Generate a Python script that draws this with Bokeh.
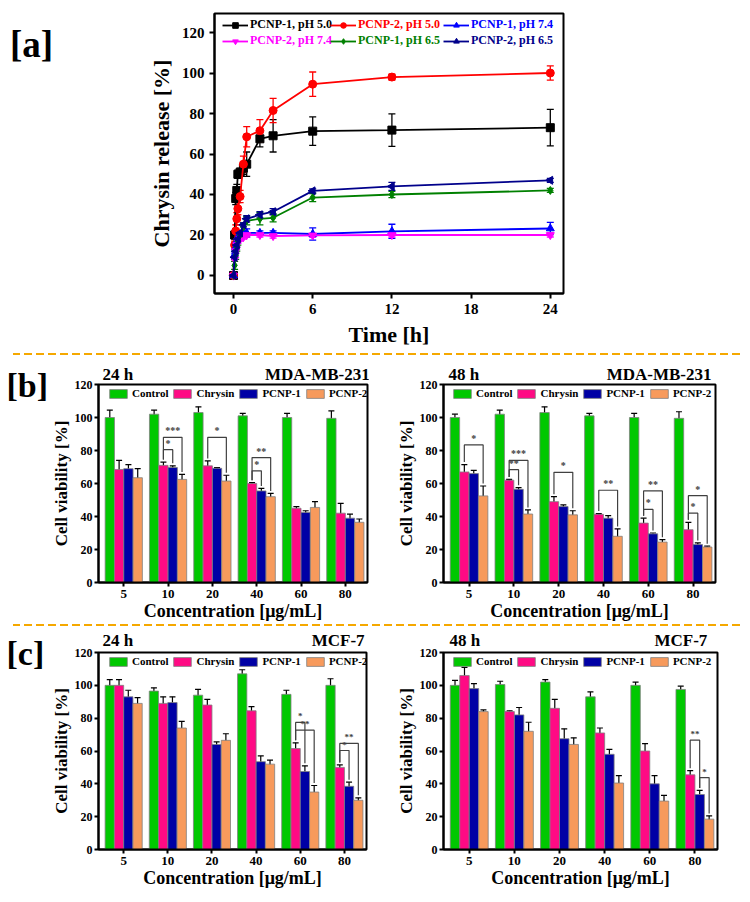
import numpy as np
from bokeh.plotting import figure
from bokeh.models import (ColumnDataSource, Whisker, TeeHead, Legend, LegendItem,
                          Label, FixedTicker, Range1d, Div)
from bokeh.layouts import column, row
from bokeh.embed import file_html
from bokeh.resources import INLINE
from bokeh.core.properties import value

FONT = "Liberation Serif"
NBSP = "\u00a0"

# ---------------- Panel [a] data: chrysin release ----------------
time_h = [0, 0.083, 0.167, 0.25, 0.33, 0.5, 0.75, 1, 2, 3, 6, 12, 24]
pcnp1_ph50 = [0, 20, 38, 42, 50, 51, 53, 55, 67.5, 69, 71.3, 71.8, 73]
pcnp1_ph50_err = [0, 2, 3, 3, 2, 2, 3, 6, 4, 8, 7, 8, 9]
pcnp2_ph50 = [0, 15, 22, 28, 33, 39, 55, 68.5, 71.5, 81.5, 94.5, 98, 100]
pcnp2_ph50_err = [0, 2, 3, 3, 3, 3, 4, 5, 5.5, 6, 6, 1.5, 3.5]
pcnp1_ph74 = [0, 10, 14, 17, 19, 20, 21, 21, 21, 21, 20.5, 21.8, 23.2]
pcnp1_ph74_err = [0, 1, 1, 1, 1, 1, 1, 2, 1, 1, 3, 3.5, 3]
pcnp2_ph74 = [0, 8, 12, 15, 17, 18, 19, 20, 20, 19.5, 19.8, 20, 20]
pcnp2_ph74_err = [0, 1, 1, 1, 1, 1, 1, 1, 1, 1, 1, 1, 1]
pcnp1_ph65 = [0, 5, 10, 14, 17, 20, 24, 27, 28, 28.5, 38.5, 40, 42]
pcnp1_ph65_err = [0, 2, 2, 2, 2, 2, 2, 2, 3, 2, 2, 1.5, 1]
pcnp2_ph65 = [0, 9, 12, 15, 18, 21, 25, 28, 30, 31.5, 41.8, 44, 47]
pcnp2_ph65_err = [0, 1, 1, 1, 1, 1, 1, 1.5, 1.5, 1.5, 1, 2, 1]

release_labels = ["PCNP-1, pH 5.0", "PCNP-2, pH 5.0", "PCNP-1, pH 7.4",
                  "PCNP-2, pH 7.4", "PCNP-1, pH 6.5", "PCNP-2, pH 6.5"]
release_vals = [pcnp1_ph50, pcnp2_ph50, pcnp1_ph74, pcnp2_ph74, pcnp1_ph65, pcnp2_ph65]
release_errs = [pcnp1_ph50_err, pcnp2_ph50_err, pcnp1_ph74_err, pcnp2_ph74_err,
                pcnp1_ph65_err, pcnp2_ph65_err]
release_colors = ["#000000", "#FF0000", "#0000FF", "#FF00FF", "#008000", "#00008B"]
release_markers = ["square", "circle", "triangle", "inverted_triangle", "diamond", "triangle"]
release_angles = [0, 0, 0, 0, 0, np.pi / 2]
time_ticks = [0, 6, 12, 18, 24]
release_ticks = [0, 20, 40, 60, 80, 100, 120]

# ---------------- Bar panels data: cell viability ----------------
conc_labels = ["5", "10", "20", "40", "60", "80"]
bar_series = ["Control", "Chrysin", "PCNP-1", "PCNP-2"]
viab_ticks = [0, 20, 40, 60, 80, 100, 120]

# [b] MDA-MB-231, 24 h
mda24_control = [100, 102, 103, 101, 100, 99.5]
mda24_control_err = [4.5, 2.5, 3.5, 1.5, 2.5, 4.5]
mda24_chrysin = [68.5, 71, 70.7, 60, 45, 42]
mda24_chrysin_err = [5.5, 2, 3, 0.5, 1, 6]
mda24_pcnp1 = [69, 69.7, 69.2, 55.5, 42.5, 39]
mda24_pcnp1_err = [2.5, 1, 0.5, 1.5, 1, 2.5]
mda24_pcnp2 = [63.5, 62.5, 61.5, 52, 45.5, 36.5]
mda24_pcnp2_err = [5.5, 3, 3.5, 2, 3.5, 2]
mda24_sig = [(1, 1, 2, 80.5, "*"), (1, 1, 3, 88, "***"), (2, 1, 3, 88, "*"),
             (3, 1, 2, 67.7, "*"), (3, 1, 3, 75.7, "**")]

# [b] MDA-MB-231, 48 h
mda48_control = [100, 102, 103, 101, 100, 99.5]
mda48_control_err = [2, 2.5, 3.5, 1.5, 2.5, 4]
mda48_chrysin = [67, 62, 49, 41.3, 36, 32]
mda48_chrysin_err = [4.5, 0.5, 3, 0.5, 3, 4.5]
mda48_pcnp1 = [66, 56.5, 46, 39, 29.5, 23]
mda48_pcnp1_err = [2, 1, 1, 1.5, 0.5, 1]
mda48_pcnp2 = [52.5, 41.5, 41, 28, 24.5, 21.5]
mda48_pcnp2_err = [6, 2.5, 2.5, 4.5, 1.5, 0.5]
mda48_sig = [(0, 1, 3, 83.4, "*"), (1, 1, 2, 68.4, "**"), (1, 1, 3, 74, "***"),
             (2, 1, 3, 66.8, "*"), (3, 1, 3, 55.9, "**"), (4, 1, 2, 44.3, "*"),
             (4, 1, 3, 55.5, "**"), (5, 1, 2, 42, "*"), (5, 1, 3, 52.6, "*")]

# [c] MCF-7, 24 h
mcf24_control = [100, 96.5, 94, 107, 94.5, 100]
mcf24_control_err = [3.5, 2, 3.5, 2.5, 2.5, 4]
mcf24_chrysin = [100, 89, 88, 84.5, 61.5, 50]
mcf24_chrysin_err = [3.5, 4, 3.5, 2.5, 3.5, 1.5]
mcf24_pcnp1 = [93, 89.5, 64, 53.5, 47.5, 38.5]
mcf24_pcnp1_err = [4, 3.5, 1.5, 3.5, 3.5, 2.5]
mcf24_pcnp2 = [89, 74, 66.5, 52, 35, 30]
mcf24_pcnp2_err = [3.5, 4, 4, 2.5, 4, 1.5]
mcf24_sig = [(4, 1, 2, 77.4, "*"), (4, 1, 3, 72.7, "**"),
             (5, 1, 2, 60.3, "*"), (5, 1, 3, 64.6, "**")]

# [c] MCF-7, 48 h
mcf48_control = [100, 100.5, 102, 93, 100, 97.5]
mcf48_control_err = [3, 2, 1.5, 3, 2, 2]
mcf48_chrysin = [106, 84, 86, 71, 60, 45.5]
mcf48_chrysin_err = [5, 0.5, 5.5, 3, 4.5, 2.5]
mcf48_pcnp1 = [98, 82, 67.5, 58, 40, 33.5]
mcf48_pcnp1_err = [3, 4.5, 6, 3, 5, 2.5]
mcf48_pcnp2 = [84, 72, 64, 40.5, 29.5, 18.5]
mcf48_pcnp2_err = [1, 5.5, 4, 4.5, 3.5, 2]
mcf48_sig = [(5, 1, 2, 66.6, "**"), (5, 2, 3, 43.8, "*")]

BAR_COLORS = ["#00C800", "#FF0A84", "#0000A5", "#F79A5C"]
BAR_W = 0.21
BAR_OFFS = [-1.5, -0.5, 0.5, 1.5]
DASH_COLOR = "#F5A800"


def style_axes(p, tick_size, label_size):
    for ax in (p.xaxis[0], p.yaxis[0]):
        ax.axis_line_width = 2
        ax.major_tick_line_width = 2
        ax.major_tick_in = 0
        ax.major_tick_out = 5
        ax.minor_tick_line_color = None
        ax.major_label_text_font = FONT
        ax.major_label_text_font_style = "bold"
        ax.major_label_text_font_size = tick_size
        ax.major_label_text_color = "black"
        ax.axis_label_text_font = FONT
        ax.axis_label_text_font_style = "bold"
        ax.axis_label_text_font_size = label_size
        ax.axis_label_text_color = "black"
    p.xgrid.grid_line_color = None
    p.ygrid.grid_line_color = None
    p.outline_line_color = "black"
    p.outline_line_width = 2
    p.outline_line_alpha = 1.0


def blank_fig(w, h, bl=0, br=0, bt=0, bb=0):
    f = figure(width=w, height=h, x_range=Range1d(0, 1), y_range=Range1d(0, 1),
               x_axis_type=None, y_axis_type=None, output_backend="svg",
               toolbar_location=None, min_border=0, min_border_left=bl,
               min_border_right=br, min_border_top=bt, min_border_bottom=bb)
    f.outline_line_color = None
    f.xgrid.grid_line_color = None
    f.ygrid.grid_line_color = None
    f.title.visible = False
    return f


def dash_div(w, h, start):
    bg = ("linear-gradient(to right, #FFFFFF 0px, #FFFFFF %dpx, rgba(255,255,255,0) %dpx), "
          "repeating-linear-gradient(to right, %s 0px, %s 8px, rgba(255,255,255,0) 8px, "
          "rgba(255,255,255,0) 12px)" % (start, start, DASH_COLOR, DASH_COLOR))
    return Div(text="", width=w, height=h, margin=(0, 0, 0, 0),
               styles={"background-image": bg, "overflow": "hidden"})


def letter_title_fig(w, h, bt, bb, text, offset=6, standoff=-39, size="34px"):
    f = blank_fig(w, h, bt=bt, bb=bb)
    f.title.visible = True
    f.title.text = text
    f.title.align = "left"
    f.title.vertical_align = "bottom"
    f.title.offset = offset
    f.title.standoff = standoff
    f.title.text_font = FONT
    f.title.text_font_style = "bold"
    f.title.text_font_size = size
    f.title.text_color = "black"
    return f


# ---------------- Panel [a] ----------------
A_LW = 100
A_BL, A_FW, A_BR = 114, 349, 179
A_BT, A_FH, A_BB = 13, 280, 60
A_H = A_BT + A_FH + A_BB
pa = figure(width=A_BL + A_FW + A_BR, height=A_H,
            x_range=Range1d(-1.44, 25.0), y_range=Range1d(-8.9, 129.4),
            output_backend="svg", toolbar_location=None,
            min_border_left=A_BL, min_border_right=A_BR,
            min_border_top=A_BT, min_border_bottom=A_BB)
pa.title.visible = False
pa.xaxis.ticker = FixedTicker(ticks=time_ticks)
pa.yaxis.ticker = FixedTicker(ticks=release_ticks)
pa.xaxis.axis_label = "Time [h]"
pa.yaxis.axis_label = "Chrysin release [%]"
style_axes(pa, "15px", "22px")

leg_pos = [(8, 261), (116, 261), (229, 261), (8, 245), (116, 245), (229, 245)]
for k in range(6):
    vals = release_vals[k]
    errs = release_errs[k]
    col = release_colors[k]
    src = ColumnDataSource(dict(x=time_h, y=vals,
                                up=[v + e for v, e in zip(vals, errs)],
                                lo=[v - e for v, e in zip(vals, errs)]))
    pa.add_layout(Whisker(source=src, base="x", upper="up", lower="lo",
                          line_color=col, line_width=1.3,
                          upper_head=TeeHead(size=7, line_color=col, line_width=1.3),
                          lower_head=TeeHead(size=7, line_color=col, line_width=1.3)))
    rl = pa.line("x", "y", source=src, line_color=col, line_width=1.8)
    rs = pa.scatter("x", "y", source=src, marker=release_markers[k], size=8,
                    angle=release_angles[k], fill_color=col, line_color=col)
    leg = Legend(items=[LegendItem(label=release_labels[k], renderers=[rl, rs])],
                 location=leg_pos[k], glyph_width=26, glyph_height=14,
                 label_height=14, label_standoff=2, padding=0, margin=0,
                 label_text_font=FONT, label_text_font_style="bold",
                 label_text_font_size="12px", label_text_color=col,
                 background_fill_alpha=0, border_line_color=None)
    pa.add_layout(leg)

la = blank_fig(A_LW, A_H, bt=A_BT, bb=A_BB)
la.add_layout(Label(x=31, y=A_FH - 31, x_units="screen", y_units="screen",
                    text="[a]", text_font=FONT, text_font_style="bold",
                    text_font_size="37px", text_align="center",
                    text_baseline="middle", text_color="black"))


# ---------------- Bar panels ----------------
def bar_panel(vals, errs, sig, header, bl, fw, br, bt, fh, bb,
              leg_x=9, head_offset=4, head_standoff=1, star_size="10px"):
    p = figure(width=bl + fw + br, height=bt + fh + bb,
               x_range=Range1d(-0.57, 5.5), y_range=Range1d(0, 120),
               output_backend="svg", toolbar_location=None,
               min_border_left=bl, min_border_right=br,
               min_border_top=bt, min_border_bottom=bb)
    p.title.text = header
    p.title.align = "left"
    p.title.offset = head_offset
    p.title.standoff = head_standoff
    p.title.text_font = FONT
    p.title.text_font_style = "bold"
    p.title.text_font_size = "17px"
    p.title.text_color = "black"

    p.xaxis.ticker = FixedTicker(ticks=list(range(len(conc_labels))))
    p.xaxis.major_label_overrides = {i: lab for i, lab in enumerate(conc_labels)}
    p.yaxis.ticker = FixedTicker(ticks=viab_ticks)
    p.xaxis.axis_label = "Concentration [\u03bcg/mL]"
    p.yaxis.axis_label = "Cell viability [%]"
    style_axes(p, "12px", "18px")
    p.yaxis.axis_label_text_font_size = "17px"
    p.xaxis.major_label_text_font_size = "13px"
    p.xaxis.major_tick_out = 4
    p.xaxis.major_label_standoff = 3
    p.xaxis.axis_label_standoff = 0
    p.yaxis.major_tick_out = 4
    p.yaxis.major_label_standoff = 2
    p.yaxis.axis_label_standoff = 1

    groups = list(range(len(conc_labels)))
    items = []
    for k in range(4):
        xs = [g + BAR_OFFS[k] * BAR_W for g in groups]
        src = ColumnDataSource(dict(x=xs, top=vals[k],
                                    up=[v + e for v, e in zip(vals[k], errs[k])],
                                    lo=[v - e for v, e in zip(vals[k], errs[k])]))
        r = p.vbar(x="x", top="top", bottom=0, width=BAR_W, source=src,
                   fill_color=BAR_COLORS[k], line_color="#808080", line_width=0.8)
        items.append(LegendItem(label=bar_series[k], renderers=[r]))
        p.add_layout(Whisker(source=src, base="x", upper="up", lower="lo",
                             line_color="black", line_width=1.2,
                             upper_head=TeeHead(size=6, line_color="black", line_width=1.2),
                             lower_head=TeeHead(size=6, line_color="black", line_width=1.2)))

    bx, by, tx, ty, tt = [], [], [], [], []
    for g, i, j, h, lab in sig:
        xa = g + BAR_OFFS[i] * BAR_W
        xb = g + BAR_OFFS[j] * BAR_W
        ya = vals[i][g] + errs[i][g] + 1.5
        yb = vals[j][g] + errs[j][g] + 1.5
        bx.append([xa, xa, xb, xb])
        by.append([ya, h, h, yb])
        tx.append((xa + xb) / 2)
        ty.append(h + 0.6)
        tt.append(lab)
    p.multi_line(bx, by, line_color="#404040", line_width=1.2)
    p.text(tx, ty, text=tt, text_font=value(FONT), text_font_style="bold",
           text_font_size=value(star_size), text_align="center",
           text_baseline="bottom", text_color="#404040")

    leg = Legend(items=items, location=(leg_x, fh - 2 - 14), orientation="horizontal",
                 glyph_width=22, glyph_height=11, label_height=14, label_standoff=3,
                 spacing=3, padding=0, margin=0,
                 label_text_font=FONT, label_text_font_style="bold",
                 label_text_font_size="11px", label_text_color="black",
                 background_fill_alpha=0, border_line_color=None)
    p.add_layout(leg)
    return p


def header(left, right, gap):
    return left + NBSP * gap + right


LW = 48
DASH_H = 2
B_BT, B_FH, B_BB = 29, 198, 42
C_BT, C_FH, C_BB = 26, 197, 45
B_H = B_BT + B_FH + B_BB
C_H = C_BT + C_FH + C_BB

pb1 = bar_panel([mda24_control, mda24_chrysin, mda24_pcnp1, mda24_pcnp2],
                [mda24_control_err, mda24_chrysin_err, mda24_pcnp1_err, mda24_pcnp2_err],
                mda24_sig, header("24 h", "MDA-MB-231", 31),
                93 - LW, 274, 2, B_BT, B_FH, B_BB, leg_x=9, head_offset=4, head_standoff=1)
pb2 = bar_panel([mda48_control, mda48_chrysin, mda48_pcnp1, mda48_pcnp2],
                [mda48_control_err, mda48_chrysin_err, mda48_pcnp1_err, mda48_pcnp2_err],
                mda48_sig, header("48 h", "MDA-MB-231", 30),
                74, 272, 27, B_BT, B_FH, B_BB, leg_x=8, head_offset=5, head_standoff=1)
pc1 = bar_panel([mcf24_control, mcf24_chrysin, mcf24_pcnp1, mcf24_pcnp2],
                [mcf24_control_err, mcf24_chrysin_err, mcf24_pcnp1_err, mcf24_pcnp2_err],
                mcf24_sig, header("24 h", "MCF-7", 42),
                93 - LW, 273, 3, C_BT, C_FH, C_BB, leg_x=9, head_offset=4, head_standoff=5,
                star_size="9px")
pc2 = bar_panel([mcf48_control, mcf48_chrysin, mcf48_pcnp1, mcf48_pcnp2],
                [mcf48_control_err, mcf48_chrysin_err, mcf48_pcnp1_err, mcf48_pcnp2_err],
                mcf48_sig, header("48 h", "MCF-7", 41),
                74, 274, 25, C_BT, C_FH, C_BB, leg_x=8, head_offset=6, head_standoff=5,
                star_size="9px")

lb = letter_title_fig(LW, B_H, B_BT, B_BB, "[b]")
lc = letter_title_fig(LW, C_H, C_BT, C_BB, "[c]")

layout = column(
    row(la, pa),
    dash_div(742, DASH_H, 13),
    row(lb, pb1, pb2),
    dash_div(742, DASH_H, 13),
    row(lc, pc1, pc2),
)
open("out.html", "w").write(file_html(layout, INLINE))
